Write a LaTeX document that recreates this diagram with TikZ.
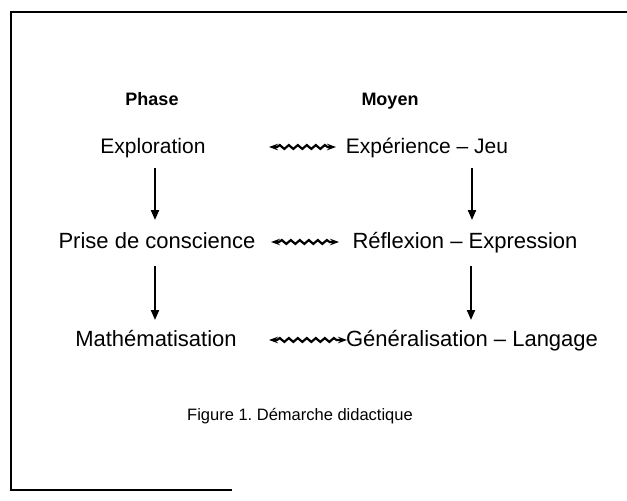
\documentclass[tikz,border=0pt]{standalone}
\usepackage{fontspec}
\setmainfont{Liberation Sans}
\usetikzlibrary{arrows.meta,decorations.pathmorphing}
\frenchspacing
\begin{document}
\begin{tikzpicture}[x=1pt,y=-1pt,
  lbl/.style={inner sep=0pt,anchor=base,font=\fontsize{21}{25}\selectfont},
  lblb/.style={inner sep=0pt,anchor=base,font=\fontsize{22}{26}\selectfont},
  head/.style={inner sep=0pt,anchor=base,font=\fontsize{18}{21}\selectfont\bfseries},
  figcap/.style={inner sep=0pt,anchor=base,font=\fontsize{16.5}{19}\selectfont},
  frame/.style={line width=2.8pt},
  down/.style={line width=2pt,-{Triangle[length=10pt,width=8pt]}},
  wavy/.style={line width=2.2pt,{Stealth[length=9pt,width=6.5pt]}-{Stealth[length=9pt,width=6.5pt]},
    decorate,decoration={snake,amplitude=1.9pt,segment length=9pt,pre length=8pt,post length=8pt}}]
\useasboundingbox (0,0) rectangle (627,501);
% frame
\coordinate (f1) at (627,12);
\coordinate (f2) at (11,12);
\coordinate (f3) at (11,490);
\coordinate (f4) at (232,490);
\draw[frame] (f1) -- (f2) -- (f3) -- (f4);
% headings
\node[head] (phase) at (152,105) {Phase};
\node[head] (moyen) at (390,105) {Moyen};
% rows
\node[lbl] (l1) at (153,153) {Exploration};
\node[lbl] (r1) at (427,153) {Expérience – Jeu};
\node[lblb] (l2) at (157,248) {Prise de conscience};
\node[lblb] (r2) at (465,248) {Réflexion – Expression};
\node[lblb] (l3) at (156,346) {Mathématisation};
\node[lblb] (r3) at (472,346) {Généralisation – Langage};
\node[figcap] (caption) at (300,420) {Figure 1. Démarche didactique};
% vertical arrows
\coordinate (a1s) at (155,168); \coordinate (a1e) at (155,220);
\coordinate (a2s) at (155,266); \coordinate (a2e) at (155,320);
\coordinate (b1s) at (472,168); \coordinate (b1e) at (472,220);
\coordinate (b2s) at (471,266); \coordinate (b2e) at (471,320);
\draw[down] (a1s) -- (a1e);
\draw[down] (a2s) -- (a2e);
\draw[down] (b1s) -- (b1e);
\draw[down] (b2s) -- (b2e);
% wavy arrows
\coordinate (w1s) at (269,147); \coordinate (w1e) at (336,147);
\coordinate (w2s) at (271,242); \coordinate (w2e) at (339,242);
\coordinate (w3s) at (269,340); \coordinate (w3e) at (347,340);
\draw[wavy] (w1s) -- (w1e);
\draw[wavy] (w2s) -- (w2e);
\draw[wavy] (w3s) -- (w3e);
\end{tikzpicture}
\end{document}
